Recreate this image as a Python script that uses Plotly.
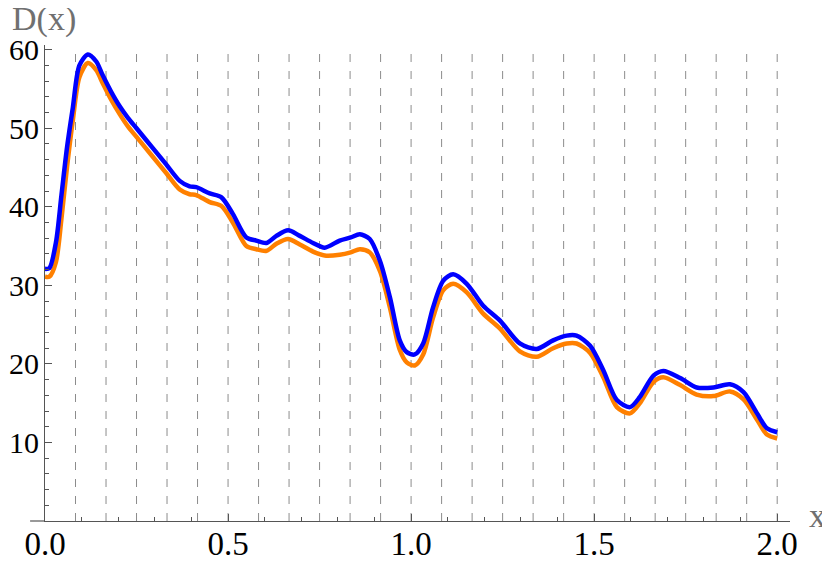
import plotly.graph_objs as go

# common x grid for both curves
x = [0, 0.012, 0.03, 0.045, 0.06, 0.076, 0.094, 0.117, 0.14, 0.157, 0.18, 0.204, 0.227, 0.25,
     0.294, 0.331, 0.368, 0.395, 0.413, 0.45, 0.482, 0.513, 0.55, 0.577, 0.605, 0.632, 0.664,
     0.696, 0.732, 0.764, 0.805, 0.835, 0.86, 0.887, 0.915, 0.942, 0.969, 0.988, 1.01, 1.033,
     1.06, 1.088, 1.115, 1.152, 1.197, 1.243, 1.297, 1.343, 1.388, 1.425, 1.452, 1.489, 1.525,
     1.562, 1.598, 1.625, 1.662, 1.689, 1.735, 1.78, 1.826, 1.871, 1.908, 1.945, 1.972, 2.0]

d_blue = [32.1, 32.2, 35.5, 41.5, 47.5, 52.6, 58.0, 59.4, 58.5, 56.8, 54.7, 52.8, 51.3, 50.0,
          47.5, 45.4, 43.3, 42.6, 42.5, 41.7, 41.2, 39.1, 36.1, 35.7, 35.4, 36.3, 37.0,
          36.3, 35.4, 34.8, 35.7, 36.1, 36.5, 35.9, 33.1, 28.5, 23.0, 21.5, 21.2, 22.6,
          27.2, 30.6, 31.4, 30.2, 27.4, 25.5, 22.6, 21.9, 23.0, 23.6, 23.6, 22.3, 19.2,
          15.4, 14.5, 15.8, 18.5, 19.1, 18.2, 17.0, 17.0, 17.4, 16.4, 13.7, 11.8, 11.3]

d_orange = [31.1, 31.1, 33.0, 38.5, 45.0, 51.0, 56.5, 58.3, 57.4, 55.8, 53.7, 51.8, 50.2, 48.9,
            46.4, 44.3, 42.2, 41.6, 41.5, 40.6, 40.1, 38.0, 35.0, 34.6, 34.4, 35.3, 35.9,
            35.2, 34.3, 33.8, 33.9, 34.2, 34.6, 34.2, 31.8, 27.2, 21.8, 20.2, 19.8, 21.2,
            25.9, 29.4, 30.2, 29.1, 26.4, 24.5, 21.6, 20.9, 22.0, 22.6, 22.6, 21.4, 18.3,
            14.5, 13.7, 15.0, 17.7, 18.3, 17.3, 16.1, 15.9, 16.5, 15.5, 12.9, 11.0, 10.5]

# dashed vertical lines at k/12
grid_x = [k / 12 for k in range(1, 25)]

x_ticks = [0, 0.5, 1.0, 1.5, 2.0]
x_labels = ['0.0', '0.5', '1.0', '1.5', '2.0']
y_ticks = [10, 20, 30, 40, 50, 60]

fig = go.Figure()

for gx in grid_x:
    fig.add_shape(type='line', x0=gx, x1=gx, y0=0, y1=59.6, xref='x', yref='y',
                  line=dict(color='#8c8c8c', width=1, dash='8px,9px'), layer='below')

fig.add_trace(go.Scatter(x=x, y=d_orange, mode='lines', line=dict(color='#ff8000', width=4.5, shape='spline', smoothing=0.8)))
fig.add_trace(go.Scatter(x=x, y=d_blue, mode='lines', line=dict(color='#0000ff', width=4.5, shape='spline', smoothing=0.8)))

# axis line extension to the left of the origin
fig.add_shape(type='line', xref='paper', yref='paper', x0=-0.02, x1=0, y0=0, y1=0,
              line=dict(color='#555555', width=1.2))

fig.add_annotation(text='D(x)', xref='paper', yref='paper', x=-0.047, y=1.055,
                   xanchor='left', yanchor='middle', showarrow=False,
                   font=dict(family='Liberation Serif', size=34, color='#707070'))
fig.add_annotation(text='x', xref='paper', yref='paper', x=1.037, y=0.012,
                   xanchor='center', yanchor='middle', showarrow=False,
                   font=dict(family='Liberation Serif', size=34, color='#707070'))

fig.update_xaxes(range=[0, 2.035], showgrid=False, zeroline=False, showline=True, automargin=False,
                 linecolor='#555555', linewidth=1.2, ticks='inside', ticklen=7, tickcolor='#555555',
                 tickvals=x_ticks, ticktext=x_labels, ticklabelstandoff=-7,
                 minor=dict(dtick=0.1, tick0=0, ticks='inside', ticklen=4, tickcolor='#555555'))
fig.update_yaxes(range=[0, 60.6], showgrid=False, zeroline=False, showline=True, automargin=False,
                 linecolor='#555555', linewidth=1.2, ticks='inside', ticklen=7, tickcolor='#555555',
                 tickvals=y_ticks, ticklabelstandoff=-1, tickfont=dict(size=30),
                 minor=dict(dtick=2, tick0=0, ticks='inside', ticklen=4, tickcolor='#555555'))

# page body has an 8px margin, so the figure is sized/offset to land on the same pixels
fig.update_layout(width=822, height=551, showlegend=False,
                  margin=dict(l=37, r=40, t=37, b=38),
                  plot_bgcolor='white', paper_bgcolor='white',
                  font=dict(family='Liberation Serif', size=33, color='black'))

fig.write_html("out.html")
